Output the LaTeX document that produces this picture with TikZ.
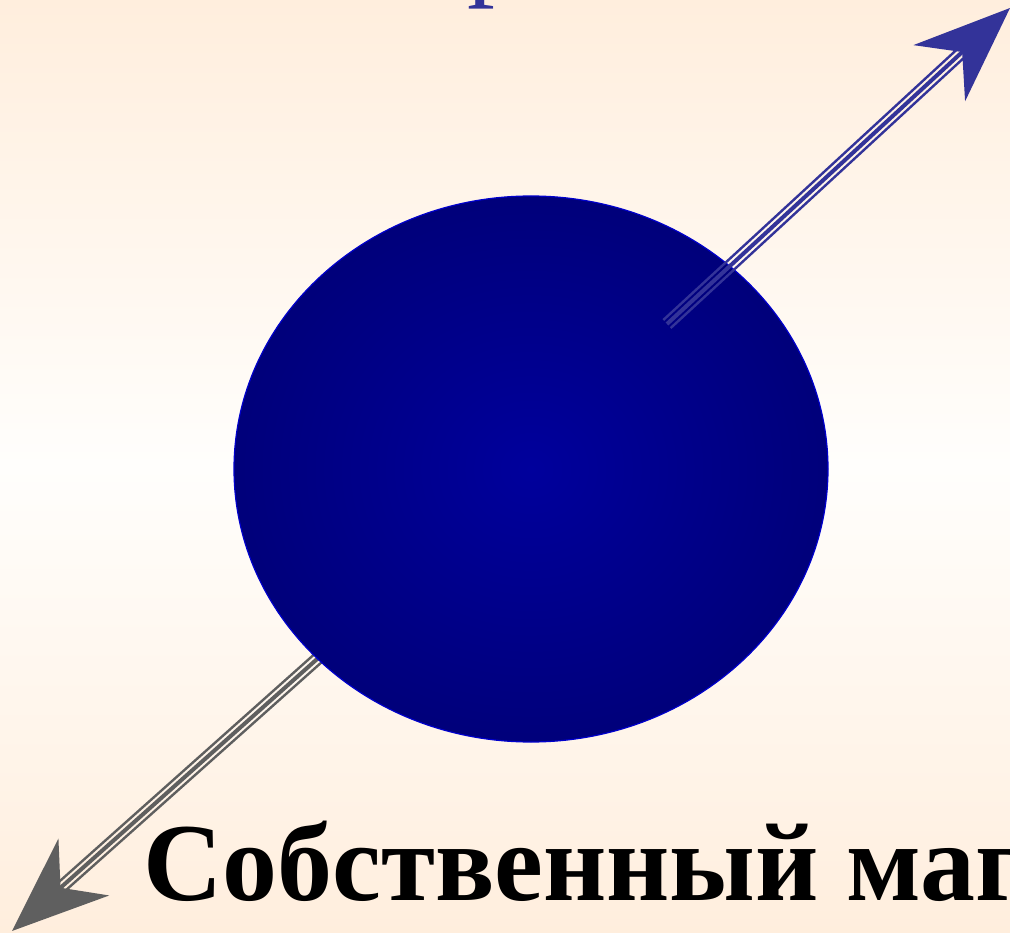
\documentclass[tikz,border=0pt]{standalone}
\usepackage{fontspec}
\setmainfont{Liberation Serif}
\usetikzlibrary{arrows.meta,shapes.geometric}
\definecolor{peach}{HTML}{FFEEDD}
\definecolor{cream}{HTML}{FFFEFC}
\definecolor{ballin}{HTML}{00009C}
\definecolor{ballout}{HTML}{00005E}
\definecolor{ballrim}{HTML}{0000CC}
\definecolor{spinblue}{HTML}{333399}
\definecolor{momgray}{HTML}{5F5F5F}
\pgfdeclareradialshading{ballshade}{\pgfpoint{0bp}{0bp}}{color(0bp)=(ballin); color(46bp)=(ballout); color(75bp)=(ballout)}
\begin{document}
\begin{tikzpicture}[x=1pt,y=-1pt,
  outerline/.style={line width=2.4pt, line cap=butt},
  midline/.style={line width=4pt, line cap=butt, -{Stealth[length=96pt,width=76pt,inset=31pt]}},
  bigtext/.style={anchor=base west, inner sep=0pt, font=\fontsize{111}{120}\selectfont}]
\useasboundingbox (0,0) rectangle (1010,933);
\clip (0,0) rectangle (1010,933);
\shade[top color=peach, bottom color=peach, middle color=cream] (0,0) rectangle (1010,933);
% lower (grey) arrow, under the ball
\coordinate (s2) at (325,652);
\coordinate (t2) at (12,931);
\coordinate (o2) at (58.3,889.7);
\draw[momgray, outerline] ([shift={(3.6,4.05)}]s2) -- ([shift={(3.6,4.05)}]o2);
\draw[momgray, outerline] ([shift={(-3.6,-4.05)}]s2) -- ([shift={(-3.6,-4.05)}]o2);
\draw[momgray, midline] (s2) -- (t2);
% the ball
\node (ball) [ellipse, minimum width=594pt, minimum height=546pt, inner sep=0pt,
  shading=ballshade, draw=ballrim, line width=1.2pt] at (531,469) {};
% upper (blue) arrow, over the ball
\coordinate (s1) at (667,324);
\coordinate (t1) at (1010,8);
\coordinate (o1) at (964.4,50);
\draw[spinblue, outerline] ([shift={(3.7,4)}]s1) -- ([shift={(3.7,4)}]o1);
\draw[spinblue, outerline] ([shift={(-3.7,-4)}]s1) -- ([shift={(-3.7,-4)}]o1);
\draw[spinblue, midline] (s1) -- (t1);
% texts
\node[bigtext, text=spinblue] (spin) at (467,-14) {р};
\node[bigtext, xscale=0.99, font=\fontsize{111}{120}\selectfont\bfseries] (mag) at (143,900) {Собственный магнитный момент};
\end{tikzpicture}
\end{document}
